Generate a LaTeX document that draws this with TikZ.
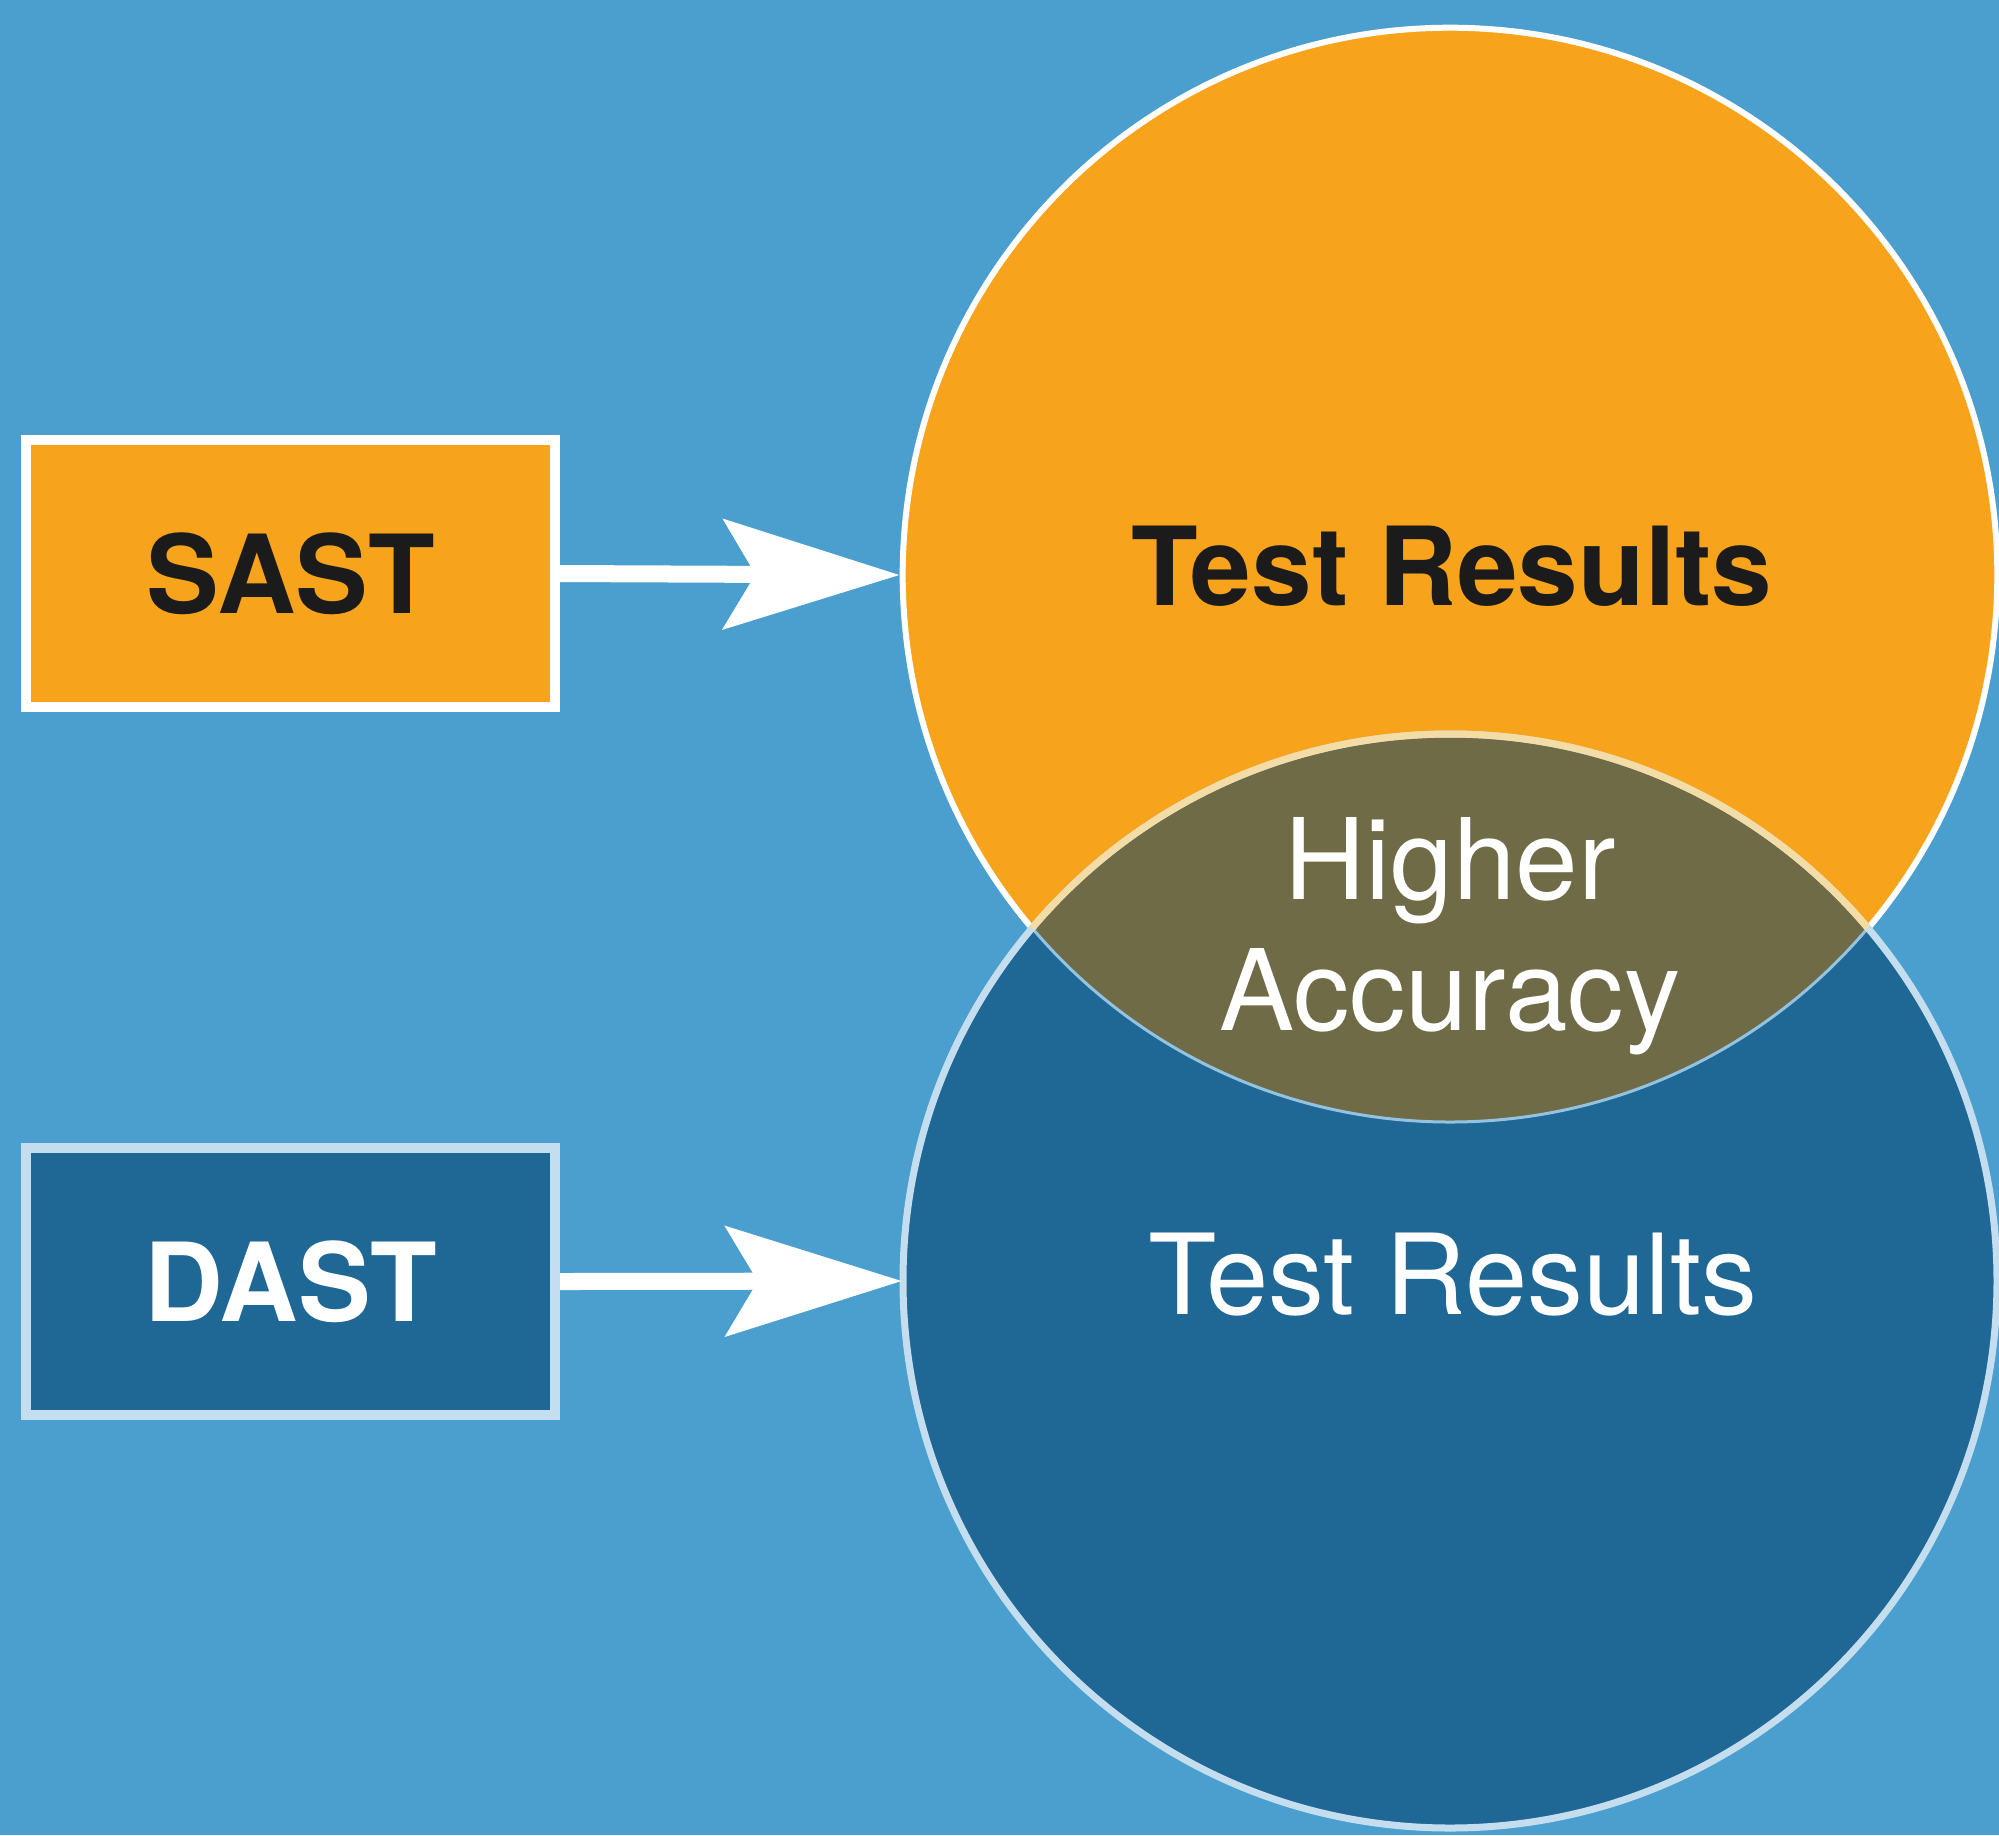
\documentclass[tikz,border=0pt]{standalone}
\usepackage{fontspec}
\setmainfont{TeX Gyre Heros}
\usetikzlibrary{arrows.meta}
\definecolor{bg}{HTML}{4A9FCF}
\definecolor{orng}{HTML}{F7A31C}
\definecolor{dblue}{HTML}{1F6795}
\definecolor{olive}{HTML}{6E6B46}
\definecolor{paleblue}{HTML}{C4DEEF}
\definecolor{lensline}{HTML}{93C3E0}
\definecolor{cream}{HTML}{F4DCA6}
\definecolor{txtdark}{HTML}{1B1B1B}
\tikzset{
  boxnode/.style={rectangle, minimum width=5.29cm, minimum height=2.67cm, inner sep=0pt, line width=0.1cm},
  bigcircle/.style={circle, minimum size=10.94cm, inner sep=0pt},
  bigtext/.style={font=\fontsize{31pt}{37.3pt}\selectfont, inner sep=0pt},
  arr/.style={draw=white, line width=0.17cm, -{Stealth[length=50pt,width=31pt,inset=9pt]}}
}
\begin{document}
\begin{tikzpicture}[x=0.01cm,y=-0.01cm]
\fill[bg] (0,0) rectangle (1999,1835);
\useasboundingbox (0,0) rectangle (1999,1835);
% circles
\node[bigcircle, fill=orng, draw=white, line width=0.06cm] (topc) at (1450,575) {};
\node[bigcircle, fill=dblue] (botc) at (1450,1281) {};
\begin{scope}
  \clip (1450,575) circle[radius=547];
  \fill[olive] (1450,1281) circle[radius=547];
\end{scope}
\begin{scope}
  \clip (1450,1281) circle[radius=547];
  \draw[lensline, line width=0.03cm] (1450,575) circle[radius=547];
\end{scope}
\draw[paleblue, line width=0.07cm] (1450,1281) circle[radius=547];
\begin{scope}
  \clip (1450,575) circle[radius=547];
  \draw[cream, line width=0.07cm] (1450,1281) circle[radius=547];
\end{scope}
% boxes
\node[boxnode, fill=orng, draw=white, text=txtdark, font=\fontsize{31pt}{37pt}\selectfont\bfseries] (sast) at (290.5,573.5) {SAST};
\node[boxnode, fill=dblue, draw=paleblue, text=white, font=\fontsize{31pt}{37pt}\selectfont\bfseries] (dast) at (290.5,1281.5) {DAST};
% arrows
\draw[arr] (sast.east) -- (topc.west);
\draw[arr] (dast.east) -- (botc.west);
% texts
\node[bigtext, text=txtdark, font=\fontsize{31pt}{37pt}\selectfont\bfseries] (tr1) at (1452,566) {Test Results};
\node[bigtext, text=white, align=center, font=\fontsize{32pt}{37.3pt}\selectfont] (ha) at (1450,936) {Higher\\Accuracy};
\node[bigtext, text=white, font=\fontsize{31.8pt}{37pt}\selectfont] (tr2) at (1453,1275) {Test Results};
\end{tikzpicture}
\end{document}
